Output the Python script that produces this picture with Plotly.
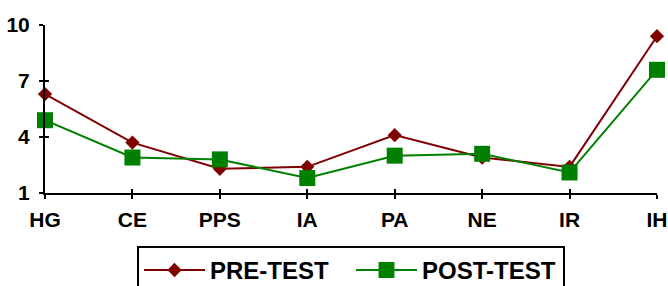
import plotly.graph_objects as go

categories = ["HG", "CE", "PPS", "IA", "PA", "NE", "IR", "IH"]
pre_test = [6.3, 3.7, 2.3, 2.4, 4.1, 2.9, 2.4, 9.4]
post_test = [4.9, 2.9, 2.8, 1.8, 3.0, 3.1, 2.1, 7.6]
y_ticks = [1, 4, 7, 10]

FONT = "Arial, Liberation Sans, sans-serif"

fig = go.Figure()
fig.add_trace(go.Scatter(
    x=categories, y=pre_test, name="PRE-TEST", mode="lines+markers",
    line=dict(color="#800000", width=2),
    marker=dict(symbol="diamond", size=11, color="#800000"),
    cliponaxis=False,
))
fig.add_trace(go.Scatter(
    x=categories, y=post_test, name="POST-TEST", mode="lines+markers",
    line=dict(color="#008000", width=2),
    marker=dict(symbol="square", size=16, color="#008000"),
    cliponaxis=False,
))
# invisible helper trace so the overlay axes (inner half of crossing ticks) are drawn
fig.add_trace(go.Scatter(
    x=categories, y=pre_test, xaxis="x2", yaxis="y2", mode="markers",
    marker=dict(opacity=0), showlegend=False, hoverinfo="skip",
))

tick_common = dict(tickwidth=2, tickcolor="black", ticklen=4)

fig.update_layout(
    width=668, height=286,
    margin=dict(l=45, r=11, t=25, b=93, autoexpand=False),
    paper_bgcolor="white", plot_bgcolor="white",
    showlegend=True,
    legend=dict(
        orientation="h", x=(137 - 45) / 612, xanchor="left", y=-0.315, yanchor="top",
        font=dict(family=FONT, size=24, color="black", weight="bold"),
        bordercolor="black", borderwidth=2, bgcolor="white",
        itemwidth=61, entrywidth=136,
    ),
    xaxis=dict(
        type="category", range=[0, 7], showgrid=False, zeroline=False,
        showline=True, linecolor="black", linewidth=2,
        ticks="outside", ticklabelstandoff=3, **tick_common,
        tickfont=dict(family=FONT, size=21, color="black", weight="bold"),
    ),
    yaxis=dict(
        range=[1, 10], tickvals=y_ticks, showgrid=False, zeroline=False,
        showline=True, linecolor="black", linewidth=2,
        ticks="outside", ticklabelstandoff=5, **tick_common,
        tickfont=dict(family=FONT, size=21, color="black", weight="bold"),
    ),
    xaxis2=dict(
        type="category", range=[0, 7], overlaying="x", anchor="y2",
        showgrid=False, zeroline=False, showline=False, showticklabels=False,
        ticks="inside", **tick_common,
    ),
    yaxis2=dict(
        range=[1, 10], tickvals=y_ticks, overlaying="y", anchor="x2",
        showgrid=False, zeroline=False, showline=False, showticklabels=False,
        ticks="inside", **tick_common,
    ),
)

fig.write_html(
    "out.html",
    config={"displayModeBar": False},
    post_script="document.body.style.margin='0';",
)
